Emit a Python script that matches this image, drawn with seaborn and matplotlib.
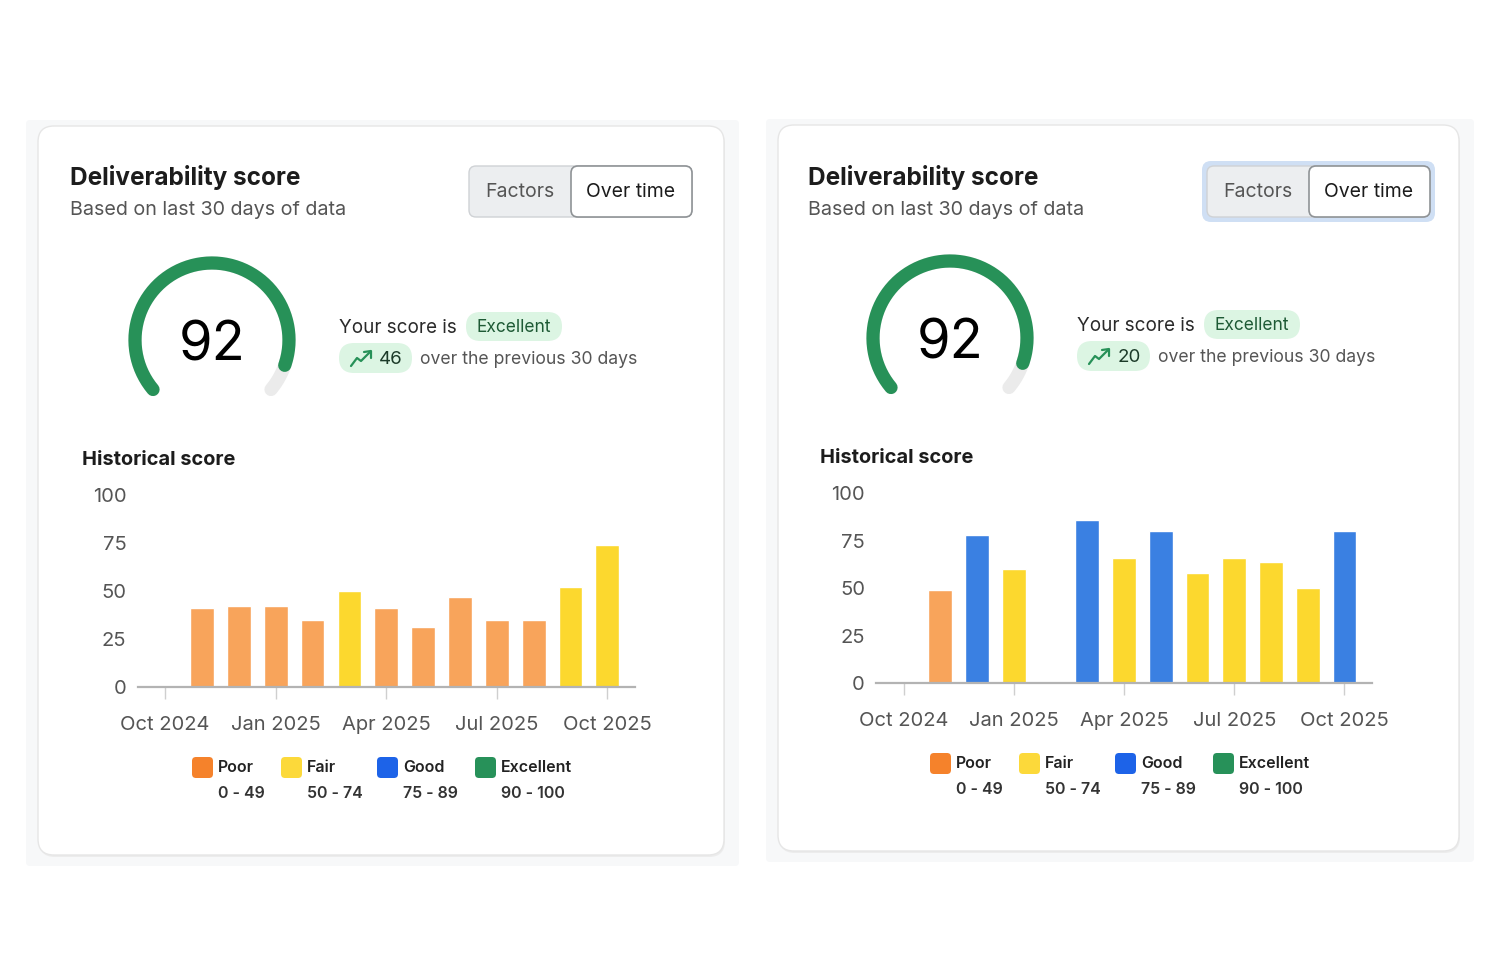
import numpy as np
import pandas as pd
import matplotlib
matplotlib.use("Agg")
import matplotlib.pyplot as plt
from matplotlib.patches import FancyBboxPatch
import seaborn as sns

# ── DATA ──────────────────────────────────────────────────────────────────────
MONTHS = ["Oct 2024", "Nov 2024", "Dec 2024", "Jan 2025", "Feb 2025",
          "Mar 2025", "Apr 2025", "May 2025", "Jun 2025", "Jul 2025",
          "Aug 2025", "Sep 2025", "Oct 2025"]
TICK_LABELS = ["Oct 2024", "Jan 2025", "Apr 2025", "Jul 2025", "Oct 2025"]
BAR_MONTHS = MONTHS[1:]

SCORES_LEFT = [41, 42, 42, 35, 50, 41, 31, 47, 35, 35, 52, 74]
SCORES_RIGHT = [49, 78, 60, np.nan, 86, 66, 80, 58, 66, 64, 50, 80]

GAUGE_SCORES = [92, 92]
CHANGES = [46, 20]

TIERS = ["Poor", "Fair", "Good", "Excellent"]
TIER_RANGES = ["0 - 49", "50 - 74", "75 - 89", "90 - 100"]
TIER_BINS = [-1, 49.5, 74.5, 89.5, 100]

# ── STYLE ─────────────────────────────────────────────────────────────────────
BAR_COLORS = {"Poor": "#f8a45b", "Fair": "#fcd82e",
              "Good": "#3a80e2", "Excellent": "#2a9a5e"}
KEY_COLORS = {"Poor": "#f5822b", "Fair": "#fcd93a",
              "Good": "#1d63e8", "Excellent": "#279159"}
GREEN = "#279158"
TRACK = "#ebebeb"
PILL = "#dcf5e3"
DARK = "#1c1c1c"
GREY = "#555555"

sns.set_theme(style="white")
plt.rcParams["font.family"] = ["Inter", "DejaVu Sans"]

W, H = 1500, 969
fig = plt.figure(figsize=(W / 100, H / 100), dpi=100, facecolor="white")
bg = fig.add_axes([0, 0, 1, 1])
bg.set_xlim(0, W)
bg.set_ylim(H, 0)
bg.axis("off")


def rbox(x0, y0, x1, y1, r, fc, ec="none", lw=0, z=1):
    bg.add_patch(FancyBboxPatch((x0, y0), x1 - x0, y1 - y0,
                                boxstyle=f"round,pad=0,rounding_size={r}",
                                fc=fc, ec=ec, lw=lw, zorder=z))


def draw_card(scores, gauge, change, card, dx, dy, chart, leg_dy, focus):
    # panel + card
    rbox(card[0] - 12, card[1] - 6, card[2] + 15, card[3] + 11, 4, "#f7f8f9", z=0)
    rbox(card[0] + 1, card[1] + 2, card[2] + 1, card[3] + 2, 16, "#ececec", z=0.5)
    rbox(*card, 16, "white", ec="#e6e6e6", lw=1, z=1)

    # header (not shifted vertically)
    bg.text(70 + dx, 177, "Deliverability score", fontsize=17.5,
            fontweight="bold", color=DARK, va="center", zorder=3)
    bg.text(70 + dx, 210, "Based on last 30 days of data", fontsize=14.2,
            color=GREY, va="center", zorder=3)

    # toggle
    if focus:
        rbox(464 + dx, 161, 697 + dx, 222, 9, "#cfdff4", z=2)
    rbox(469 + dx, 166, 692 + dx, 217, 7, "#eceef0", ec="#cfd2d5", lw=1, z=2)
    rbox(571 + dx, 166, 692 + dx, 217, 7, "white", ec="#8f9396", lw=1.2, z=2.5)
    bg.text(520 + dx, 192, "Factors", fontsize=14, color=GREY,
            ha="center", va="center", zorder=3)
    bg.text(631 + dx, 192, "Over time", fontsize=14, color=DARK,
            ha="center", va="center", zorder=3)

    # gauge
    cx, cy, r = 212 + dx, 340 + dy, 77
    start, span = 220, 260
    t = np.radians(np.linspace(start, start - span, 200))
    bg.plot(cx + r * np.cos(t), cy - r * np.sin(t), color=TRACK, lw=9.5,
            solid_capstyle="round", zorder=3)
    t = np.radians(np.linspace(start, start - span * gauge / 100, 200))
    bg.plot(cx + r * np.cos(t), cy - r * np.sin(t), color=GREEN, lw=9.5,
            solid_capstyle="round", zorder=4)
    bg.text(cx, cy + 6, f"{gauge}", fontsize=39, color="black",
            ha="center", va="center", zorder=4)

    # score summary
    bg.text(339 + dx, 328 + dy, "Your score is", fontsize=13.6, color="#2a2a2a",
            va="center", zorder=3)
    rbox(466 + dx, 312 + dy, 562 + dx, 341 + dy, 14.5, PILL, z=2)
    bg.text(514 + dx, 327 + dy, "Excellent", fontsize=12.5, color="#1e5a35",
            ha="center", va="center", zorder=3)
    rbox(339 + dx, 343 + dy, 412 + dx, 373 + dy, 15, PILL, z=2)
    ix, iy = 351 + dx, 366 + dy
    bg.plot([ix, ix + 6, ix + 10, ix + 19], [iy, iy - 8, iy - 5, iy - 14],
            color=GREEN, lw=1.6, solid_capstyle="round", zorder=3)
    bg.plot([ix + 13, ix + 20, ix + 20], [iy - 14, iy - 15, iy - 8],
            color=GREEN, lw=1.6, solid_capstyle="round", zorder=3)
    bg.text(391 + dx, 359 + dy, f"{change}", fontsize=13.5, color="#1c3b29",
            ha="center", va="center", zorder=3)
    bg.text(420 + dx, 359 + dy, "over the previous 30 days", fontsize=12.7,
            color=GREY, va="center", zorder=3)

    bg.text(82 + dx, 460 + dy, "Historical score", fontsize=14.4,
            fontweight="bold", color=DARK, va="center", zorder=3)

    # bar chart
    x_left, x_right, y_top, y_zero = chart
    ax = fig.add_axes([x_left / W, 1 - y_zero / H,
                       (x_right - x_left) / W, (y_zero - y_top) / H])
    ax.patch.set_alpha(0)
    df = pd.DataFrame({"month": BAR_MONTHS, "score": scores}).dropna()
    df["tier"] = pd.cut(df["score"], bins=TIER_BINS, labels=TIERS).astype(str)
    sns.barplot(data=df, x="month", y="score", hue="tier", order=MONTHS,
                hue_order=TIERS, palette=BAR_COLORS, dodge=False, width=0.645,
                saturation=1, errorbar=None, legend=False, ax=ax, zorder=2)
    ax.set_xlim(-0.75, len(MONTHS) - 0.25)
    ax.set_ylim(0, 100)
    ax.set_yticks([0, 25, 50, 75, 100])
    ax.set_xticks([MONTHS.index(m) for m in TICK_LABELS])
    ax.set_xticklabels(TICK_LABELS)
    ax.set_xlabel("")
    ax.set_ylabel("")
    for s in ["top", "right", "left"]:
        ax.spines[s].set_visible(False)
    ax.spines["bottom"].set_color("#b3b3b3")
    ax.spines["bottom"].set_linewidth(1.6)
    ax.spines["bottom"].set_zorder(3)
    ax.tick_params(axis="x", length=8.5, width=1, color="#cfcfcf",
                   labelsize=14.5, labelcolor=GREY, pad=12.5, bottom=True)
    ax.tick_params(axis="y", length=0, labelsize=14.5, labelcolor=GREY, pad=8)
    ax.grid(False)

    # tier key
    sq_x = [192, 281, 377, 475]
    for tier, rng, sx in zip(TIERS, TIER_RANGES, sq_x):
        rbox(sx + dx, 757 + leg_dy, sx + 21 + dx, 778 + leg_dy, 4,
             KEY_COLORS[tier], z=2)
        bg.text(sx + 26 + dx, 767 + leg_dy, tier, fontsize=11.5,
                fontweight="semibold", color="#222222", va="center", zorder=3)
        bg.text(sx + 26 + dx, 793 + leg_dy, rng, fontsize=11.5,
                fontweight="semibold", color="#333333", va="center", zorder=3)


draw_card(SCORES_LEFT, GAUGE_SCORES[0], CHANGES[0], (38, 126, 724, 855),
          0, 0, (137.5, 635, 495, 687), 0, False)
draw_card(SCORES_RIGHT, GAUGE_SCORES[1], CHANGES[1], (778, 125, 1459, 851),
          738, -2, (876, 1372, 493.3, 683.3), -4, True)

fig.savefig("out.png", dpi=100, facecolor="white")
